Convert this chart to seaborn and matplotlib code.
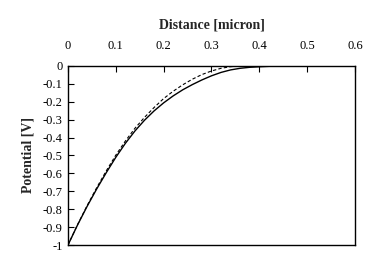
import matplotlib
matplotlib.use("Agg")
import matplotlib.pyplot as plt
import seaborn as sns
import pandas as pd

# Solid curve (full solution)
x_solid = [0.0, 0.02, 0.04, 0.06, 0.08, 0.10, 0.12, 0.14, 0.16, 0.18, 0.20, 0.22,
           0.24, 0.26, 0.28, 0.30, 0.32, 0.34, 0.36, 0.38, 0.40, 0.42, 0.44]
v_solid = [-1.0, -0.888, -0.784, -0.687, -0.596, -0.510, -0.432, -0.363, -0.303, -0.251, -0.206, -0.167,
           -0.133, -0.104, -0.078, -0.055, -0.036, -0.022, -0.013, -0.0074, -0.0044, -0.002, 0.0]
# Dashed curve (depletion approximation)
x_dash = [0.0, 0.02, 0.04, 0.06, 0.08, 0.10, 0.12, 0.14, 0.16, 0.18, 0.20, 0.22,
          0.24, 0.26, 0.28, 0.30, 0.32, 0.34, 0.36]
v_dash = [-1.0, -0.886, -0.780, -0.680, -0.586, -0.498, -0.419, -0.348, -0.287, -0.232, -0.182, -0.141,
          -0.105, -0.074, -0.048, -0.028, -0.013, -0.004, 0.0]

x_ticks = [0, 0.1, 0.2, 0.3, 0.4, 0.5, 0.6]
y_ticks = [0, -0.1, -0.2, -0.3, -0.4, -0.5, -0.6, -0.7, -0.8, -0.9, -1]

sns.set_theme(style="white")
plt.rcParams['font.family'] = ['Liberation Serif', 'DejaVu Serif']

fig = plt.figure(figsize=(3.85, 2.76), dpi=100)
ax = fig.add_axes([0.1766, 0.1123, 0.7454, 0.6487])

df_s = pd.DataFrame({"x": x_solid, "v": v_solid})
df_d = pd.DataFrame({"x": x_dash, "v": v_dash})
sns.lineplot(data=df_s, x="x", y="v", ax=ax, color="black", linewidth=1.0, sort=False)
sns.lineplot(data=df_d, x="x", y="v", ax=ax, color="black", linewidth=0.8,
             linestyle=(0, (3, 2)), sort=False)

ax.set_xlim(0, 0.6)
ax.set_ylim(-1, 0)
ax.xaxis.tick_top()
ax.xaxis.set_label_position("top")
ax.set_xticks(x_ticks)
ax.set_xticklabels([("%g" % t) for t in x_ticks], fontsize=9)
ax.set_yticks(y_ticks)
ax.set_yticklabels([("%g" % t) for t in y_ticks], fontsize=9)
ax.tick_params(axis="x", direction="in", length=4, width=0.8, pad=10, top=True, bottom=False, colors="black")
ax.tick_params(axis="y", direction="in", length=4, width=0.8, pad=4, left=True, colors="black")
for s in ax.spines.values():
    s.set_visible(True)
    s.set_color("black")
    s.set_linewidth(1.0)
ax.set_xlabel("Distance [micron]", fontsize=10, fontweight="bold", labelpad=8)
ax.set_ylabel("Potential [V]", fontsize=10, fontweight="bold", labelpad=6)
ax.grid(False)

fig.savefig("out.png", dpi=100)
